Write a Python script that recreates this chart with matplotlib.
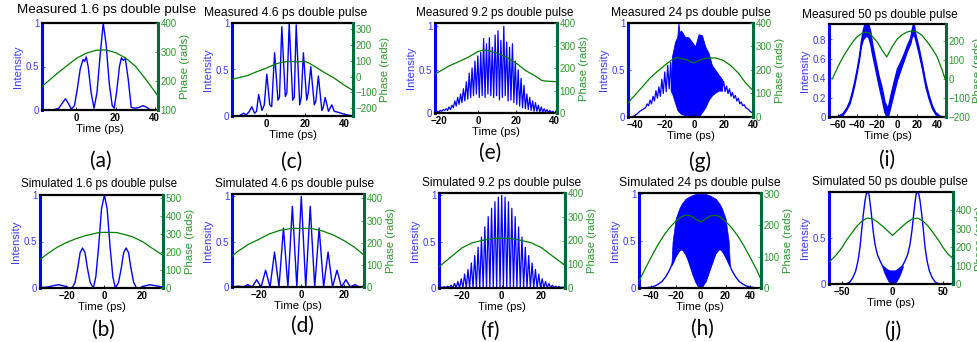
import numpy as np
import matplotlib.pyplot as plt

W, H = 977, 342
BLUE = '#0000ff'
BLUE_TXT = '#3c3cff'
GREEN = '#008000'
GREEN_TXT = '#2e9a2e'
SPINE_G = '#006b3c'

plt.rcParams['font.family'] = ['Liberation Sans', 'DejaVu Sans']

# (a) measured 1.6 ps
a_time = [-17.6, -12, -9, -7.5, -5.6, -4, -2.6, -1, 0.5, 2, 3.4, 4.2, 5, 6, 7.5, 9, 10.5, 12, 13.7, 15.2,
          16.8, 18.3, 19.3, 20.5, 22, 23, 24, 25, 26.5, 28, 30, 32, 34, 36, 38, 41.7]
a_int = [0, 0, 0.02, 0.07, 0.13, 0.07, 0.01, 0.05, 0.25, 0.48, 0.58, 0.56, 0.61, 0.5, 0.2, 0.02, 0.2, 0.6, 1.0, 0.75,
         0.3, 0.05, 0.02, 0.2, 0.5, 0.6, 0.57, 0.59, 0.35, 0.03, 0.02, 0.03, 0.05, 0.03, 0.0, 0.0]
a_ph_t = [-17.6, -10, -5, 0, 5, 10, 15, 20, 25, 30, 35, 41.7]
a_ph = [181, 225, 252, 278, 296, 306, 307, 298, 280, 252, 210, 148]

# (b) simulated 1.6 ps
b_time = [-34, -30, -27, -24, -21, -19, -17, -15.5, -14, -12.8, -11.5, -10.2, -9, -7.5, -5.8, -4.5, -3, -1.5, 0, 1.5,
          3, 4.5, 5.8, 7.5, 9, 10.2, 11.5, 12.8, 14, 15.5, 17, 19, 21, 24, 27, 31]
b_int = [0.005, 0.01, 0.025, 0.035, 0.02, 0.005, 0, 0.06, 0.22, 0.38, 0.43, 0.38, 0.22, 0.06, 0, 0.12, 0.45, 0.85, 1.0, 0.85,
         0.45, 0.12, 0, 0.06, 0.22, 0.38, 0.43, 0.38, 0.22, 0.06, 0, 0.005, 0.02, 0.035, 0.025, 0.01]
b_ph_t = [-34, -30, -25, -20, -15, -10, -5, -3, 0, 3, 6.5, 10, 15, 20, 25, 31]
b_ph = [159, 190, 225, 252, 273, 290, 302, 307, 308, 308, 307, 298, 283, 258, 222, 181]

# (c) measured 4.6 ps
c_time = [-17.6, -14, -12.5, -11.6, -10.5, -9, -7.4, -6, -5, -3.9, -2.2, -1, 0.3, 1.8, 2.8, 4.3, 6, 6.8, 8, 9.8,
          10.6, 11.8, 13.6, 14.4, 15.4, 17.2, 18, 19.1, 20.8, 21.6, 22.9, 24.7, 25.5, 26.8, 28.6, 29.4, 30.3, 32,
          33.7, 35, 37, 40, 42, 44.6]
c_int = [0.0, 0.0, 0.02, 0.03, 0.01, 0.04, 0.1, 0.03, 0.05, 0.23, 0.06, 0.12, 0.45, 0.12, 0.1, 0.68, 0.17, 0.2, 0.96, 0.21,
         0.25, 1.0, 0.17, 0.2, 0.98, 0.12, 0.2, 0.68, 0.17, 0.25, 0.53, 0.12, 0.16, 0.43, 0.06, 0.1, 0.2, 0.05,
         0.12, 0.05, 0.04, 0.02, 0.01, 0.0]
c_ph_t = [-17.6, -10, -5, 0, 5, 8, 12, 16, 20, 22, 25, 30, 35, 40, 44.6]
c_ph = [-17, 5, 30, 53, 80, 90, 95, 93, 95, 85, 63, 25, -10, -53, -88]

# (d) simulated 4.6 ps
d_peak_t = [-29.4, -25.2, -21.0, -16.8, -12.6, -8.4, -4.2, 0, 4.2, 8.4, 12.6, 16.8, 21.0, 25.2, 29.4]
d_peak = [0.01, 0.026, 0.08, 0.185, 0.385, 0.65, 0.89, 1.0, 0.89, 0.65, 0.385, 0.185, 0.08, 0.026, 0.01]
d_dip_t = [-33.6, -31.5, -27.3, -23.1, -18.9, -14.7, -10.5, -6.3, -2.1, 2.1, 6.3, 10.5, 14.7, 18.9, 23.1, 27.3, 31.5]
d_dip = [0.005, 0.003, 0, 0, 0, 0, 0, 0, 0, 0, 0, 0, 0, 0, 0, 0, 0.003]
d_ph_t = [-32.6, -30, -25, -20, -15, -10, -5, 0, 5, 10, 15, 20, 25, 29.5]
d_ph = [139, 160, 192, 215, 240, 256, 264, 265, 264, 253, 235, 210, 180, 144]

# (e) measured 9.2 ps
e_peak_t = [-21, -19.5, -18, -16.5, -15, -13.5, -12, -10.5, -9, -7.5, -6, -4.5, -3, -1.5, 0, 1.5, 3, 4.5, 6, 7.5,
            9, 10.5, 12, 13.5, 15, 16.5, 18, 19.5, 21, 22.5, 24, 25.5, 27, 28.5, 30, 31.5, 33, 34.5, 36, 37.5, 39, 40.5]
e_peak = [0.02, 0.03, 0.04, 0.05, 0.07, 0.09, 0.14, 0.18, 0.22, 0.28, 0.36, 0.46, 0.52, 0.6, 0.66, 0.7, 0.86, 0.8, 0.87, 0.76,
          0.9, 0.95, 0.84, 1.0, 0.82, 0.76, 0.8, 0.6, 0.5, 0.4, 0.32, 0.22, 0.18, 0.14, 0.12, 0.09, 0.07, 0.05, 0.04, 0.03, 0.02, 0.01]
e_dip_t = [-22.3, -20.25, -18.75, -17.25, -15.75, -14.25, -12.75, -11.25, -9.75, -8.25, -6.75, -5.25, -3.75, -2.25, -0.75,
           0.75, 2.25, 3.75, 5.25, 6.75, 8.25, 9.75, 11.25, 12.75, 14.25, 15.75, 17.25, 18.75, 20.25, 21.75, 23.25,
           24.75, 26.25, 27.75, 29.25, 30.75, 32.25, 33.75, 35.25, 36.75, 38.25, 39.75, 41.2]
e_dip = [0.02, 0.01, 0.02, 0.03, 0.03, 0.04, 0.06, 0.08, 0.1, 0.12, 0.14, 0.16, 0.18, 0.2, 0.22,
         0.18, 0.2, 0.18, 0.22, 0.2, 0.18, 0.2, 0.15, 0.18, 0.2, 0.14, 0.15, 0.12, 0.1, 0.08, 0.06,
         0.05, 0.04, 0.03, 0.02, 0.02, 0.01, 0.01, 0.01, 0.005, 0.005, 0.0, 0.0]
e_ph_t = [-22.3, -15, -10, -5, 0, 3, 5, 10, 15, 20, 25, 30, 33, 35, 41.2]
e_ph = [173, 209, 228, 248, 273, 280, 278, 266, 248, 221, 188, 164, 146, 142, 139]

# (f) simulated 9.2 ps
f_peak_t = [-30.6, -28.9, -27.2, -25.5, -23.8, -22.1, -20.4, -18.7, -17.0, -15.3, -13.6, -11.9, -10.2, -8.5, -6.8,
            -5.1, -3.4, -1.7, 0.0, 1.7, 3.4, 5.1, 6.8, 8.5, 10.2, 11.9, 13.6, 15.3, 17.0, 18.7, 20.4, 22.1, 23.8,
            25.5, 27.2, 28.9, 30.6]
f_peak = [0.01, 0.015, 0.02, 0.03, 0.05, 0.07, 0.1, 0.15, 0.2, 0.27, 0.35, 0.44, 0.55, 0.66, 0.77,
          0.86, 0.93, 0.98, 1.0, 0.98, 0.93, 0.86, 0.77, 0.66, 0.55, 0.44, 0.35, 0.27, 0.2, 0.15, 0.1, 0.07, 0.05,
          0.03, 0.02, 0.015, 0.01]
f_dip_t = [-31.6, -29.75, -28.05, -26.35, -24.65, -22.95, -21.25, -19.55, -17.85, -16.15, -14.45, -12.75, -11.05,
           -9.35, -7.65, -5.95, -4.25, -2.55, -0.85, 0.85, 2.55, 4.25, 5.95, 7.65, 9.35, 11.05, 12.75, 14.45,
           16.15, 17.85, 19.55, 21.25, 22.95, 24.65, 26.35, 28.05, 29.75, 31.9]
f_dip = [0.005, 0.005, 0.004, 0.003, 0.002, 0.001, 0, 0, 0, 0, 0, 0, 0,
         0, 0, 0, 0, 0, 0, 0, 0, 0, 0, 0, 0, 0, 0, 0,
         0, 0, 0, 0.001, 0.002, 0.003, 0.004, 0.005, 0.005, 0.005]
f_ph_t = [-31.6, -25, -20, -15, -10, -5, 0, 5, 10, 15, 20, 25, 31.9]
f_ph = [89, 135, 169, 190, 200, 208, 210, 208, 200, 190, 170, 138, 96]

# (g) measured 24 ps
g_left_t = [-45, -43, -41, -39, -37, -35, -33, -32, -31, -30, -29, -28, -27, -26, -25, -24, -23, -22, -21, -20,
            -19, -18, -17, -16, -15.3]
g_left = [0.0, 0.0, 0.01, 0.03, 0.06, 0.08, 0.1, 0.14, 0.12, 0.18, 0.14, 0.22, 0.17, 0.28, 0.2, 0.32, 0.22, 0.4, 0.25, 0.48,
          0.27, 0.55, 0.3, 0.58, 0.3]
g_core_t = [-16, -15, -13, -11.5, -10.7, -10, -8.9, -6.2, -3.9, -1.6, 0.7, 3, 5.3, 7.5, 9.8, 12.1, 14.4, 16.7, 19]
g_core_hi = [0.35, 0.65, 0.8, 0.85, 1.0, 0.9, 0.92, 0.85, 0.85, 0.8, 0.75, 0.88, 0.87, 0.75, 0.68, 0.55, 0.5, 0.45, 0.4]
g_core_lo = [0.28, 0.25, 0.15, 0.08, 0.06, 0.05, 0.03, 0.02, 0.0, 0.0, 0.0, 0.0, 0.05, 0.1, 0.18, 0.23, 0.26, 0.28, 0.28]
g_right_t = [19, 20, 21, 22, 23, 24, 25, 26, 27, 28, 29, 30, 31, 32, 33, 34, 35, 36, 37, 38, 39, 40]
g_right = [0.3, 0.38, 0.27, 0.33, 0.25, 0.3, 0.22, 0.26, 0.2, 0.23, 0.17, 0.2, 0.14, 0.16, 0.12, 0.13, 0.1, 0.09, 0.08,
           0.06, 0.05, 0.04]
g_ph_t = [-45, -40, -35, -30, -25, -20, -15, -12, -8, -5, -2, 0, 3, 6, 10, 15, 20, 25, 30, 35, 40]
g_ph = [60, 95, 130, 166, 194, 220, 244, 254, 247, 244, 234, 230, 240, 247, 251, 251, 240, 218, 187, 145, 113]

# (h) simulated 24 ps
h_time = [-49.5, -45, -40, -37, -34, -31, -28, -25, -22, -19, -17, -15.5, -14, -12, -10, -8, -6, -4, -2, 0,
          2, 4, 6, 8, 10, 12, 14, 15.5, 17, 19, 22, 25, 28, 31, 34, 37, 40, 45, 48.5]
h_int = [0, 0, 0.01, 0.02, 0.04, 0.07, 0.12, 0.19, 0.28, 0.36, 0.4, 0.415, 0.4, 0.36, 0.3, 0.22, 0.14, 0.07, 0.02, 0,
         0.02, 0.07, 0.14, 0.22, 0.3, 0.36, 0.4, 0.415, 0.4, 0.36, 0.28, 0.19, 0.12, 0.07, 0.04, 0.02, 0.01, 0, 0]
h_fill_t = [-23.5, -22.5, -20, -17, -15, -12, -8, -4, 0, 4, 8, 12, 15, 17, 20, 22.5, 23.5]
h_fill_hi = [0.24, 0.5, 0.74, 0.85, 0.9, 0.95, 0.98, 1.0, 1.0, 1.0, 0.98, 0.95, 0.9, 0.85, 0.74, 0.5, 0.24]
h_fill_lo = [0.24, 0.26, 0.34, 0.4, 0.415, 0.37, 0.22, 0.07, 0.0, 0.07, 0.22, 0.37, 0.415, 0.4, 0.34, 0.26, 0.24]
h_ph_t = [-49.5, -45, -40, -35, -30, -25, -20, -15, -12, -8, -5, -2, 0, 2, 5, 8, 12, 15, 20, 25, 30, 35, 40, 45, 48.5]
h_ph = [21, 58, 96, 133, 165, 192, 213, 228, 232, 230, 223, 215, 211, 215, 223, 230, 232, 228, 213, 192, 165, 133, 96, 58, 27]

# (i) measured 50 ps
i_time = [-68.6, -60, -55, -51, -48, -45.7, -43.4, -40.7, -38.3, -36.6, -34.6, -33, -31, -29, -27, -25.5, -22.2,
          -18.8, -15.5, -12.8, -10.4, -9, -7, -3.7, -0.3, 3, 6.4, 9.7, 13.1, 14.5, 15.8, 17, 18.2, 21.5, 24.9,
          28.2, 31.6, 35, 38.3, 43.4, 49.1]
i_lo = [0, 0, 0.02, 0.08, 0.14, 0.22, 0.32, 0.46, 0.6, 0.73, 0.8, 0.82, 0.84, 0.82, 0.75, 0.66, 0.5,
        0.33, 0.18, 0.05, 0.0, 0.02, 0.1, 0.24, 0.38, 0.48, 0.58, 0.68, 0.76, 0.82, 0.85, 0.84, 0.8, 0.66, 0.5,
        0.32, 0.19, 0.09, 0.03, 0.0, 0.0]
i_hi = [0.005, 0.01, 0.04, 0.1, 0.17, 0.26, 0.36, 0.5, 0.64, 0.78, 0.9, 0.96, 0.96, 0.96, 0.88, 0.77, 0.6,
        0.43, 0.3, 0.16, 0.1, 0.12, 0.22, 0.36, 0.5, 0.57, 0.65, 0.74, 0.82, 0.9, 0.96, 0.94, 0.86, 0.72, 0.55,
        0.37, 0.23, 0.12, 0.05, 0.01, 0.005]
i_ph_t = [-65.2, -60, -55, -50, -45, -40, -35, -32, -28, -25, -20, -15, -10.5, -8, -5, 0, 5, 10, 15, 20, 25,
          30, 35, 40, 45, 49.1]
i_ph = [0, 60, 110, 153, 192, 223, 240, 245, 240, 223, 193, 150, 115, 140, 170, 209, 232, 246, 252, 246, 228,
        196, 160, 118, 50, -14]

# (j) simulated 50 ps
j_time = [-62.5, -50, -46, -42, -39, -36.3, -34, -32, -30.4, -28.7, -27, -25.8, -24.5, -23.3, -22.4, -20.8, -19.1,
          -17.2, -14.9, -12.2, -10, -6, -3, 0, 3, 6, 10, 12.2, 14.9, 17.2, 19.1, 20.8, 22.4, 23.3, 24.5, 25.8, 27,
          28.7, 30.4, 32, 34, 36.3, 39, 42, 46, 50, 59.5]
j_int = [0, 0, 0, 0.02, 0.07, 0.14, 0.25, 0.4, 0.58, 0.76, 0.91, 0.98, 1.0, 0.98, 0.91, 0.76, 0.58,
         0.43, 0.32, 0.25, 0.2, 0.16, 0.14, 0.14, 0.14, 0.16, 0.2, 0.25, 0.32, 0.43, 0.58, 0.76, 0.91, 0.98, 1.0, 0.98, 0.91,
         0.76, 0.58, 0.4, 0.25, 0.14, 0.07, 0.02, 0, 0, 0]
j_fill_t = [-10, -8, -6, -4, -2, 0, 2, 4, 6, 8, 10]
j_fill_hi = [0.2, 0.18, 0.16, 0.15, 0.14, 0.14, 0.14, 0.15, 0.16, 0.18, 0.2]
j_fill_lo = [0.18, 0.12, 0.07, 0.03, 0.01, 0.0, 0.01, 0.03, 0.07, 0.12, 0.18]
j_ph_t = [-62.5, -55, -50, -45, -40, -35, -30, -25, -20, -15, -10, -5, 0, 5, 10, 15, 20, 25, 30, 35, 40, 45, 50, 55, 59.5]
j_ph = [118, 160, 196, 240, 278, 315, 342, 358, 355, 338, 315, 290, 264, 290, 315, 338, 355, 358, 342, 315, 278,
        240, 196, 160, 140]


def zigzag(pt, py, dt, dy):
    # merge peak and dip readings into one time-ordered trace
    t = np.concatenate([pt, dt])
    y = np.concatenate([py, dy])
    order = np.argsort(t)
    return t[order], y[order]


fig = plt.figure(figsize=(W / 100, H / 100), dpi=100)


def make_panel(rect, xlim, xticks, ylim, yticks, ylim2, yticks2, title, title_xy, title_size, letter, letter_xy):
    l, t, r, b = rect
    ax = fig.add_axes([l / W, 1 - b / H, (r - l) / W, (b - t) / H])
    ax2 = ax.twinx()
    ax.set_xlim(xlim)
    ax.set_xticks(xticks)
    ax.set_ylim(ylim)
    ax.set_yticks(yticks)
    ax.set_yticklabels(['%g' % v for v in yticks])
    ax2.set_ylim(ylim2)
    ax2.set_yticks(yticks2)
    ax.tick_params(axis='x', direction='in', length=2, width=0.6, labelsize=7, pad=2)
    plt.setp(ax.get_xticklabels(), fontweight='bold')
    ax.tick_params(axis='y', direction='in', length=2, width=0.6, labelsize=7, pad=2, colors=BLUE_TXT)
    ax2.tick_params(axis='y', direction='in', length=2, width=0.6, labelsize=7, pad=2, colors=GREEN_TXT)
    ax.set_xlabel('Time (ps)', fontsize=8.2, labelpad=1)
    ax.set_ylabel('Intensity', fontsize=8.2, color=BLUE_TXT, labelpad=2)
    ax2.set_ylabel('Phase (rads)', fontsize=8.2, color=GREEN_TXT, labelpad=2)
    for side in ['top', 'bottom']:
        ax.spines[side].set_linewidth(1.6)
        ax2.spines[side].set_visible(False)
    ax.spines['left'].set_color(BLUE)
    ax.spines['left'].set_linewidth(2.2)
    ax.spines['right'].set_visible(False)
    ax2.spines['left'].set_visible(False)
    ax2.spines['right'].set_color(SPINE_G)
    ax2.spines['right'].set_linewidth(2.2)
    fig.text(title_xy[0] / W, 1 - title_xy[1] / H, title, ha='center', va='center', fontsize=title_size)
    fig.text(letter_xy[0] / W, 1 - letter_xy[1] / H, letter, ha='center', va='center', fontsize=15,
             family=['Lato', 'DejaVu Sans'])
    return ax, ax2


# top row: measured
ax, ax2 = make_panel((42, 23, 158, 110), (-17.6, 41.7), [0, 20, 40], (0, 1), [0, 0.5, 1], (100, 400),
                     [100, 200, 300, 400], 'Measured 1.6 ps double pulse', (107, 10), 9.6, '(a)', (101, 161))
ax.plot(a_time, a_int, color=BLUE, lw=1.0)
ax2.plot(a_ph_t, a_ph, color=GREEN, lw=0.9)

ax, ax2 = make_panel((232, 23, 353, 116), (-17.6, 44.6), [0, 20, 40], (0, 1), [0, 0.5, 1], (-248, 337),
                     [-200, -100, 0, 100, 200, 300], 'Measured 4.6 ps double pulse', (286, 13), 8.7, '(c)', (292, 162))
ax.plot(c_time, c_int, color=BLUE, lw=1.0)
ax2.plot(c_ph_t, c_ph, color=GREEN, lw=0.9)

ax, ax2 = make_panel((435, 23, 557, 113), (-22.3, 41.2), [-20, 0, 20, 40], (0, 1.04), [0, 0.5, 1], (0, 400),
                     [0, 100, 200, 300, 400], 'Measured 9.2 ps double pulse', (495, 13), 8.5, '(e)', (490, 153))
et, ey = zigzag(e_peak_t, e_peak, e_dip_t, e_dip)
ax.plot(et, ey, color=BLUE, lw=0.9)
ax2.plot(e_ph_t, e_ph, color=GREEN, lw=0.9)

ax, ax2 = make_panel((628, 23, 753, 117), (-45, 40), [-40, -20, 0, 20, 40], (0, 1), [0, 0.5, 1], (0, 400),
                     [0, 100, 200, 300, 400], 'Measured 24 ps double pulse', (691, 13), 8.7, '(g)', (700, 162))
ax.plot(g_left_t, g_left, color=BLUE, lw=0.9)
ax.fill_between(g_core_t, g_core_lo, g_core_hi, color=BLUE, lw=0.6)
ax.plot(g_right_t, g_right, color=BLUE, lw=0.9)
ax2.plot(g_ph_t, g_ph, color=GREEN, lw=0.9)

ax, ax2 = make_panel((829, 24, 946, 117), (-68.6, 49.1), [-60, -40, -20, 0, 20, 40], (0, 0.96),
                     [0, 0.2, 0.4, 0.6, 0.8], (-200, 288), [-200, -100, 0, 100, 200],
                     'Measured 50 ps double pulse', (880, 15), 8.6, '(i)', (887, 160))
ax.fill_between(i_time, i_lo, i_hi, color=BLUE, lw=1.0)
ax2.plot(i_ph_t, i_ph, color=GREEN, lw=0.9)

# bottom row: simulated
ax, ax2 = make_panel((40, 195, 163, 288), (-34, 31), [-20, 0, 20], (0, 1), [0, 0.5, 1], (0, 515),
                     [0, 100, 200, 300, 400, 500], 'Simulated 1.6 ps double pulse', (99, 184), 8.4, '(b)', (103, 330))
ax.plot(b_time, b_int, color=BLUE, lw=1.0)
ax2.plot(b_ph_t, b_ph, color=GREEN, lw=0.9)

ax, ax2 = make_panel((232, 194, 364, 287), (-32.6, 29.5), [-20, 0, 20], (0, 1.026), [0, 0.5, 1], (0, 420),
                     [0, 100, 200, 300, 400], 'Simulated 4.6 ps double pulse', (295, 184), 8.6, '(d)', (302, 326))
dt, dy = zigzag(d_peak_t, d_peak, d_dip_t, d_dip)
ax.plot(dt, dy, color=BLUE, lw=1.0)
ax2.plot(d_ph_t, d_ph, color=GREEN, lw=0.9)

ax, ax2 = make_panel((439, 193, 565, 288), (-31.6, 31.9), [-20, 0, 20], (0, 1.025), [0, 0.5, 1], (0, 400),
                     [0, 100, 200, 300, 400], 'Simulated 9.2 ps double pulse', (502, 183), 8.6, '(f)', (490, 331))
ft, fy = zigzag(f_peak_t, f_peak, f_dip_t, f_dip)
ax.plot(ft, fy, color=BLUE, lw=0.9)
ax2.plot(f_ph_t, f_ph, color=GREEN, lw=0.9)

ax, ax2 = make_panel((639, 193, 761, 288), (-49.5, 48.5), [-40, -20, 0, 20, 40], (0, 1.01), [0, 0.5, 1], (0, 303),
                     [0, 100, 200, 300], 'Simulated 24 ps double pulse', (700, 183), 8.8, '(h)', (702, 329))
ax.plot(h_time, h_int, color=BLUE, lw=1.0)
ax.fill_between(h_fill_t, h_fill_lo, h_fill_hi, color=BLUE, lw=0.5)
ax2.plot(h_ph_t, h_ph, color=GREEN, lw=0.9)

ax, ax2 = make_panel((829, 192, 953, 284), (-62.5, 59.5), [-50, 0, 50], (0, 1.0), [0, 0.5], (0, 500),
                     [0, 100, 200, 300, 400], 'Simulated 50 ps double pulse', (890, 182), 8.6, '(j)', (893, 331))
ax.plot(j_time, j_int, color=BLUE, lw=1.0)
ax.fill_between(j_fill_t, j_fill_lo, j_fill_hi, color=BLUE, lw=0.5)
ax2.plot(j_ph_t, j_ph, color=GREEN, lw=0.9)

fig.savefig('out.png', dpi=100)
